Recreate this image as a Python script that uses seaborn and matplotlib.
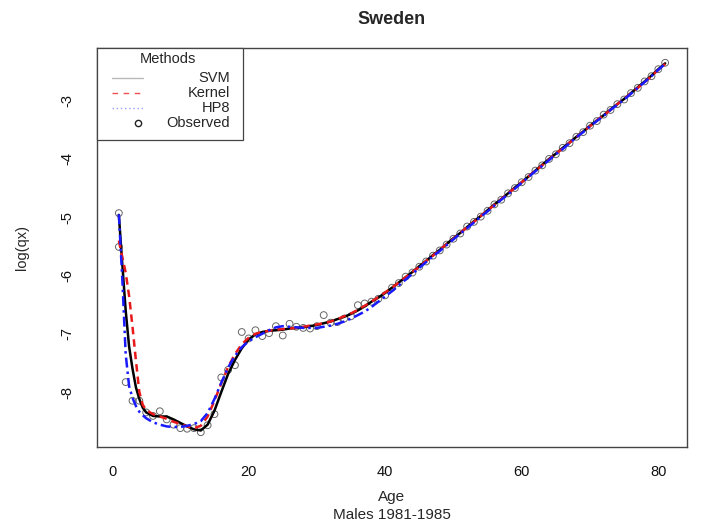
import numpy as np
import pandas as pd
import matplotlib
matplotlib.use("Agg")
import matplotlib.pyplot as plt
from matplotlib.lines import Line2D
from matplotlib.patches import Rectangle
import seaborn as sns

# Observed log death rates, Swedish males 1981-1985
obs_age = [1, 1, 2, 3, 4, 5, 6, 7, 8, 9, 10, 11, 12, 13, 14, 15, 16, 17, 18, 19, 20,
           21, 22, 23, 24, 25, 26, 27, 28, 29, 30, 31, 32, 33, 34, 35, 36, 37, 38, 39, 40,
           41, 42, 43, 44, 45, 46, 47, 48, 49, 50, 51, 52, 53, 54, 55, 56, 57, 58, 59, 60,
           61, 62, 63, 64, 65, 66, 67, 68, 69, 70, 71, 72, 73, 74, 75, 76, 77, 78, 79, 80, 81]
obs_logqx = [-4.93, -5.51, -7.83, -8.15, -8.15, -8.35, -8.41, -8.33, -8.47, -8.56, -8.62,
             -8.63, -8.62, -8.69, -8.57, -8.38, -7.75, -7.62, -7.54, -6.97, -7.08,
             -6.94, -7.04, -6.99, -6.87, -7.03, -6.83, -6.88, -6.90, -6.91, -6.87,
             -6.68, -6.81, -6.80, -6.74, -6.70, -6.51, -6.48, -6.45, -6.40, -6.34,
             -6.21, -6.13, -6.02, -5.95, -5.85, -5.76, -5.66, -5.57, -5.47, -5.37,
             -5.28, -5.16, -5.08, -4.99, -4.89, -4.78, -4.70, -4.59, -4.50, -4.40,
             -4.31, -4.20, -4.11, -4.00, -3.92, -3.81, -3.73, -3.62, -3.54, -3.43,
             -3.35, -3.24, -3.16, -3.06, -2.98, -2.87, -2.78, -2.67, -2.58, -2.46, -2.35]

# Ages at which the fitted curves are evaluated
fit_age = [1, 1.5, 2, 2.5, 3, 3.5, 4, 4.5] + list(range(5, 82))

svm_fit = [-4.96, -5.80, -6.60, -7.22, -7.60, -7.92, -8.12, -8.27,
           -8.35, -8.41, -8.42, -8.42, -8.47, -8.53, -8.59, -8.64, -8.66, -8.56,
           -8.32, -8.00, -7.69, -7.45, -7.25, -7.10, -7.01, -6.97, -6.95, -6.94,
           -6.93, -6.91, -6.90, -6.89, -6.87, -6.85, -6.82, -6.79, -6.75, -6.71,
           -6.66, -6.60, -6.53, -6.45, -6.38, -6.30, -6.21, -6.12, -6.03, -5.94,
           -5.84, -5.75, -5.65, -5.56, -5.46, -5.36, -5.27, -5.17, -5.07, -4.98,
           -4.88, -4.78, -4.69, -4.59, -4.49, -4.40, -4.30, -4.20, -4.10, -4.00,
           -3.91, -3.81, -3.72, -3.62, -3.53, -3.43, -3.34, -3.25, -3.15, -3.06,
           -2.97, -2.87, -2.77, -2.67, -2.57, -2.46, -2.36]

kernel_fit = [-5.40, -5.68, -5.95, -6.35, -6.88, -7.46, -8.00, -8.22,
              -8.31, -8.38, -8.42, -8.46, -8.51, -8.55, -8.59, -8.62, -8.58, -8.42,
              -8.15, -7.85, -7.57, -7.35, -7.18, -7.07, -7.00, -6.97, -6.95, -6.93,
              -6.92, -6.91, -6.90, -6.88, -6.86, -6.84, -6.82, -6.79, -6.75, -6.70,
              -6.65, -6.59, -6.52, -6.45, -6.37, -6.29, -6.21, -6.12, -6.03, -5.94,
              -5.85, -5.75, -5.66, -5.56, -5.46, -5.37, -5.27, -5.17, -5.08, -4.98,
              -4.88, -4.79, -4.69, -4.59, -4.50, -4.40, -4.30, -4.20, -4.11, -4.01,
              -3.91, -3.82, -3.72, -3.63, -3.53, -3.44, -3.34, -3.25, -3.16, -3.06,
              -2.97, -2.87, -2.78, -2.68, -2.58, -2.47, -2.37]

hp8_fit = [-4.95, -6.05, -7.35, -7.90, -8.10, -8.24, -8.34, -8.40,
           -8.45, -8.52, -8.56, -8.59, -8.60, -8.60, -8.58, -8.55, -8.50, -8.36,
           -8.12, -7.84, -7.58, -7.38, -7.23, -7.13, -7.06, -7.00, -6.94, -6.89,
           -6.87, -6.88, -6.89, -6.90, -6.90, -6.90, -6.88, -6.86, -6.83, -6.79,
           -6.74, -6.68, -6.62, -6.54, -6.45, -6.36, -6.27, -6.17, -6.07, -5.97,
           -5.87, -5.77, -5.67, -5.58, -5.48, -5.38, -5.28, -5.19, -5.09, -4.99,
           -4.90, -4.80, -4.70, -4.61, -4.51, -4.41, -4.31, -4.21, -4.12, -4.02,
           -3.92, -3.83, -3.73, -3.63, -3.54, -3.44, -3.35, -3.26, -3.16, -3.07,
           -2.98, -2.88, -2.78, -2.68, -2.58, -2.47, -2.37]

methods = ["SVM", "Kernel", "HP8"]
colors = {"SVM": "black", "Kernel": "#e8191a", "HP8": "#1a1aff"}
dashes = {"SVM": "", "Kernel": (3, 2), "HP8": (4, 1.6, 1, 1.6)}

fits = pd.DataFrame({
    "Age": fit_age * 3,
    "logqx": svm_fit + kernel_fit + hp8_fit,
    "Method": ["SVM"] * len(fit_age) + ["Kernel"] * len(fit_age) + ["HP8"] * len(fit_age),
})
observed = pd.DataFrame({"Age": obs_age, "logqx": obs_logqx})

sns.set_style("white")
plt.rcParams["font.family"] = ["Liberation Sans", "DejaVu Sans"]

fig = plt.figure(figsize=(7.05, 5.23), dpi=100)
ax = fig.add_axes([97 / 705, 1 - 447 / 523, 590 / 705, 399 / 523])

sns.scatterplot(data=observed, x="Age", y="logqx", ax=ax, marker="o",
                facecolor="none", edgecolor="#666666", linewidth=0.7, s=24,
                zorder=2, legend=False)
sns.lineplot(data=fits, x="Age", y="logqx", hue="Method", style="Method",
             hue_order=methods, style_order=methods, palette=colors,
             dashes=dashes, estimator=None, sort=False, linewidth=1.8,
             ax=ax, legend=False, zorder=3)

# R-style limits: data range padded by 4% on each side
xmin, xmax = min(obs_age), max(obs_age)
ymin, ymax = min(obs_logqx), max(obs_logqx)
ax.set_xlim(xmin - 0.04 * (xmax - xmin), xmax + 0.04 * (xmax - xmin))
ax.set_ylim(ymin - 0.04 * (ymax - ymin), ymax + 0.04 * (ymax - ymin))

ax.set_xticks([0, 20, 40, 60, 80])
ax.set_yticks([-8, -7, -6, -5, -4, -3])
ax.set_yticklabels(["-8", "-7", "-6", "-5", "-4", "-3"], rotation=90, va="center")
ax.tick_params(axis="both", direction="out", length=7, width=0.9, color="#444444",
               labelsize=10.5, labelcolor="#111111")
ax.tick_params(axis="x", pad=6)
ax.tick_params(axis="y", pad=9)
for sp in ax.spines.values():
    sp.set_visible(True)
    sp.set_color("#444444")
    sp.set_linewidth(1.0)

ax.set_xlabel("Age", fontsize=11, va="center")
ax.xaxis.set_label_coords(0.5, -0.125)
ax.text(0.5, -0.170, "Males 1981-1985", transform=ax.transAxes, ha="center",
        va="center", fontsize=11)
ax.set_ylabel("log(qx)", fontsize=10.5, va="center")
ax.yaxis.set_label_coords(-0.127, 0.5)
ax.set_title("Sweden", fontsize=13, fontweight="bold", pad=17)

# Legend box in the top-left corner
box_w = (243 - 97) / 590
box_h = (140 - 48) / 399
ax.add_patch(Rectangle((0, 1 - box_h), box_w, box_h, transform=ax.transAxes,
                       facecolor="white", edgecolor="#444444", linewidth=0.9,
                       zorder=5, clip_on=False))
ax.text(0.1203, 1 - 11.3 / 399, "Methods", transform=ax.transAxes, ha="center",
        va="center", fontsize=10.5, zorder=6)
rows = [("SVM", 78), ("Kernel", 93), ("HP8", 108), ("Observed", 123)]
sample_style = {
    "SVM": dict(color="#b8b8b8", linestyle="-"),
    "Kernel": dict(color="#f05050", linestyle=(0, (4, 4))),
    "HP8": dict(color="#9a9aff", linestyle=(0, (1, 2))),
}
x0, x1 = (111.7 - 97) / 590, (142.7 - 97) / 590
for label, ypx in rows:
    yy = 1 - (ypx - 48) / 399
    if label in sample_style:
        ax.add_line(Line2D([x0, x1], [yy, yy], transform=ax.transAxes, linewidth=1.0,
                           zorder=6, clip_on=False, **sample_style[label]))
    else:
        ax.add_line(Line2D([(137.7 - 97) / 590], [yy], transform=ax.transAxes,
                           marker="o", markersize=4.5, markerfacecolor="none",
                           markeredgecolor="#222222", markeredgewidth=1.0,
                           linestyle="none", zorder=6, clip_on=False))
    ax.text((230 - 97) / 590, yy, label, transform=ax.transAxes, ha="right",
            va="center", fontsize=10.5, zorder=6)

fig.savefig("out.png", dpi=100)
